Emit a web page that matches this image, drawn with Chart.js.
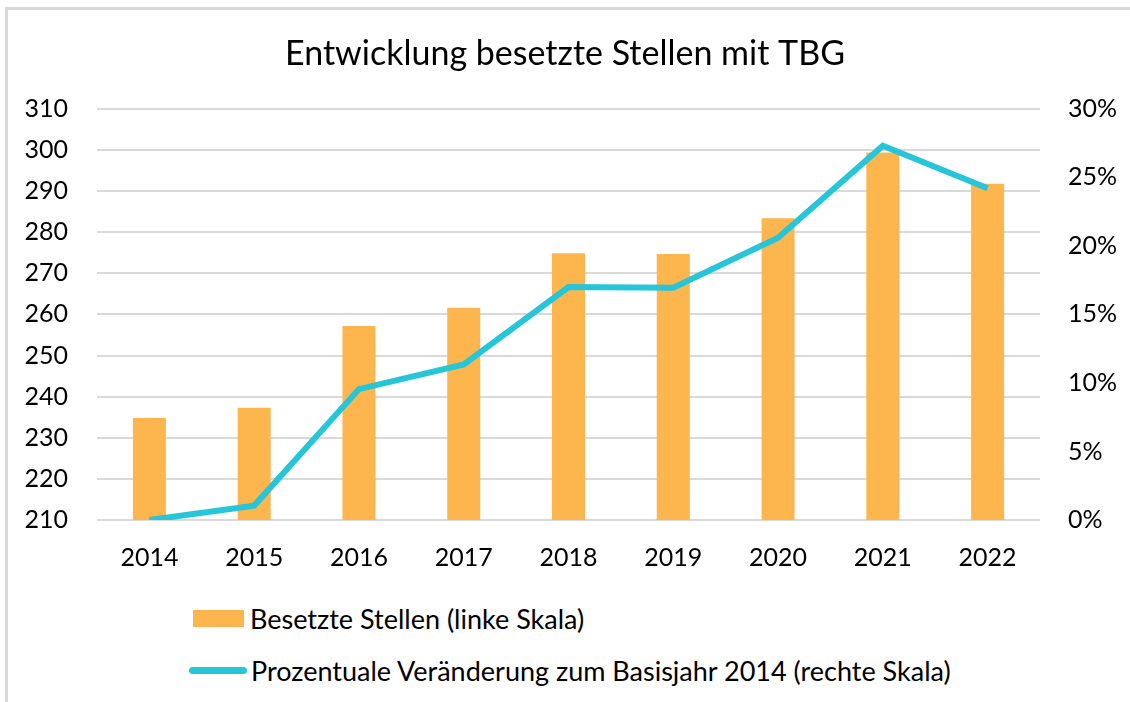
<!DOCTYPE html>
<html><head><meta charset="utf-8">
<script src="https://cdn.jsdelivr.net/npm/chart.js@4/dist/chart.umd.min.js"></script>
<style>
html,body{margin:0;padding:0;background:#fff;}
#wrap{position:relative;width:1130px;height:702px;overflow:hidden;}
#frame{position:absolute;left:5px;top:7px;width:1140px;height:710px;border-top:3px solid #d9d9d9;border-left:3px solid #d9d9d9;box-sizing:border-box;}
#c{position:absolute;left:0;top:0;}
#legend{position:absolute;left:189px;top:0;font-family:Lato,"Liberation Sans",sans-serif;font-size:27px;color:#000;}
.item{position:absolute;display:flex;align-items:center;white-space:nowrap;}
.sw{display:inline-block;}
</style></head>
<body><div id="wrap"><div id="frame"></div><canvas id="c" width="1130" height="600"></canvas><div id="legend"></div></div>
<script>
const categories = ['2014','2015','2016','2017','2018','2019','2020','2021','2022'];
const besetzteStellen = [234.8, 237.3, 257.2, 261.6, 274.9, 274.7, 283.4, 299.4, 291.8];
const prozVeraenderung = [0.0, 1.05, 9.55, 11.35, 17.0, 16.95, 20.6, 27.3, 24.2];
const leftTicks = {min:210, max:310, step:10};
const rightTicks = {min:0, max:30, step:5};
const titleText = 'Entwicklung besetzte Stellen mit TBG';
const seriesNames = ['Besetzte Stellen (linke Skala)', 'Prozentuale Veränderung zum Basisjahr 2014 (rechte Skala)'];

const BAR = '#fdb54d', LINE = '#26c5d8', GRID = '#d9d9d9';
const FONT = 'Lato';

const chart = new Chart(document.getElementById('c'), {
  data: {
    labels: categories,
    datasets: [
      {type:'line', label: seriesNames[1], data: prozVeraenderung, yAxisID:'y1', borderColor: LINE, backgroundColor: LINE, borderWidth:6, pointRadius:0, tension:0, order:0, borderJoinStyle:'miter'},
      {type:'bar', label: seriesNames[0], data: besetzteStellen, yAxisID:'y', backgroundColor: BAR, categoryPercentage:0.315, barPercentage:1, order:1}
    ]
  },
  options: {
    responsive:false, animation:false,
    layout:{padding:{left:0,right:0,top:0,bottom:0}},
    plugins:{
      legend:{display:false},
      tooltip:{enabled:false},
      title:{display:true, text:titleText, color:'#000', font:{family:FONT,size:34,weight:'normal',lineHeight:1.2}, padding:{top:34,bottom:34}}
    },
    scales:{
      x:{grid:{display:false, drawTicks:false}, border:{display:false},
         ticks:{color:'#000', font:{family:FONT,size:25}, padding:23, maxRotation:0},
         afterFit(s){s.height=80;}},
      y:{position:'left', min:leftTicks.min, max:leftTicks.max,
         ticks:{stepSize:leftTicks.step, color:'#000', font:{family:FONT,size:25}, padding:29},
         grid:{color:GRID, lineWidth:2, drawTicks:false}, border:{display:false},
         afterFit(s){s.width=97;}},
      y1:{position:'right', min:rightTicks.min, max:rightTicks.max,
         ticks:{stepSize:rightTicks.step, color:'#000', font:{family:FONT,size:25}, padding:28,
                callback:v=>v+'%'},
         grid:{display:false, drawTicks:false}, border:{display:false},
         afterFit(s){s.width=90;}}
    }
  }
});

// HTML legend built from chart datasets
const lg = document.getElementById('legend');
const rows = [{i:1, cy:618}, {i:0, cy:670}];
rows.forEach(r=>{
  const ds = chart.data.datasets[r.i];
  const it = document.createElement('div'); it.className='item';
  it.style.top = (r.cy-18)+'px'; it.style.height='36px';
  const sw = document.createElement('span'); sw.className='sw';
  if (ds.type==='bar'){ sw.style.cssText+='width:51px;height:17px;background:'+ds.backgroundColor+';margin-left:4px;margin-right:6px;'; }
  else { sw.style.cssText+='width:58px;height:7px;border-radius:4px;background:'+ds.borderColor+';margin-right:4px;'; }
  const t = document.createElement('span'); t.textContent = ds.label;
  it.appendChild(sw); it.appendChild(t); lg.appendChild(it);
});
</script></body></html>
